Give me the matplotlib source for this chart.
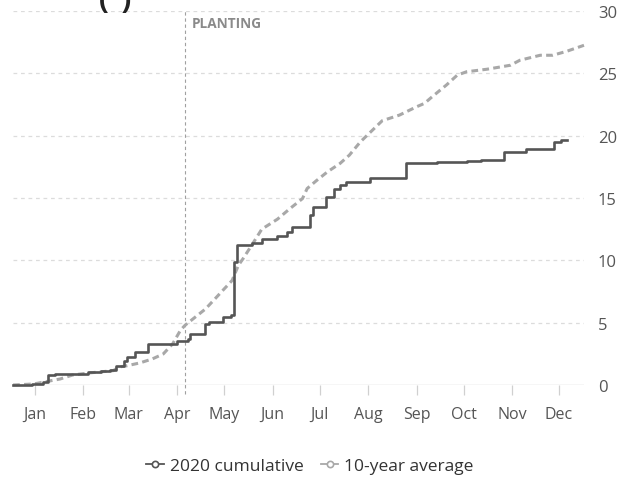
import numpy as np
import pandas as pd
import matplotlib
matplotlib.use("Agg")
import matplotlib.pyplot as plt
from matplotlib.lines import Line2D

plt.rcParams['font.family'] = ['Open Sans', 'DejaVu Sans']

# cumulative rainfall (inches), day of year -> running total
rain_2020_day = [1, 13, 20, 23, 28, 49, 57, 63, 67, 72, 74, 79, 87, 106, 113, 114,
                 124, 126, 135, 140, 142, 144, 154, 160, 170, 176, 179, 191, 193,
                 201, 206, 210, 214, 229, 252, 272, 291, 300, 315, 329, 347, 351, 355]
rain_2020 = [0.0, 0.05, 0.24, 0.80, 0.88, 1.02, 1.15, 1.23, 1.55, 1.95, 2.23, 2.63,
             3.30, 3.56, 3.70, 4.10, 4.90, 5.09, 5.44, 5.65, 9.89, 11.20, 11.41, 11.74,
             11.95, 12.27, 12.68, 13.61, 14.28, 15.09, 15.76, 16.02, 16.29, 16.62,
             17.80, 17.90, 17.95, 18.03, 18.70, 18.91, 19.51, 19.64, 19.64]

avg_day = [1, 14, 31, 39, 49, 65, 69, 74, 82, 90, 97, 103, 108, 111, 116, 124, 130,
           135, 141, 145, 148, 154, 160, 170, 178, 186, 189, 195, 202, 210, 216, 223,
           237, 248, 259, 264, 269, 278, 285, 291, 304, 319, 325, 338, 346, 355, 366]
avg_10yr = [0.0, 0.08, 0.48, 0.80, 0.96, 1.15, 1.45, 1.55, 1.77, 2.09, 2.49, 3.30,
            4.39, 4.80, 5.30, 6.10, 6.90, 7.58, 8.38, 9.59, 10.13, 11.30, 12.50, 13.30,
            14.15, 14.95, 15.76, 16.40, 17.10, 17.77, 18.44, 19.50, 21.20, 21.65,
            22.32, 22.59, 23.13, 24.06, 24.86, 25.13, 25.33, 25.65, 26.05, 26.45,
            26.45, 26.77, 27.25]

planting_date = "2020-04-20"
months = ["Jan", "Feb", "Mar", "Apr", "May", "Jun",
          "Jul", "Aug", "Sep", "Oct", "Nov", "Dec"]
yticks = [0, 5, 10, 15, 20, 25, 30]

start = pd.Timestamp("2020-01-01")
to_dates = lambda days: start + pd.to_timedelta(np.array(days) - 1, unit="D")

dark = "#555555"
light = "#a8a8a8"
label_col = "#555555"

fig = plt.figure(figsize=(6.18, 4.81), dpi=100)
ax = fig.add_axes([13.1 / 618, 1 - 386 / 481, (584 - 13.1) / 618, (386 - 12) / 481])

# grid
for y in yticks[1:]:
    ax.axhline(y, color="#dcdcdc", lw=0.9, ls=(0, (3, 3)), zorder=0)
ax.axhline(0, color="#d4d4d4", lw=1.0, zorder=0)

ax.plot(to_dates(avg_day), avg_10yr, color=light, lw=2.2,
        dashes=(2.2, 1.4), clip_on=False, zorder=2)
ax.plot(to_dates(rain_2020_day), rain_2020, color=dark, lw=1.9,
        drawstyle="steps-post", clip_on=False, zorder=3)

# planting marker
pd_ = pd.Timestamp(planting_date)
ax.plot([pd_, pd_], [-0.75, 30], color="#a0a0a0", lw=0.8, ls=(0, (3, 2.5)),
        clip_on=False, zorder=1)
ax.text(pd_ + pd.Timedelta(days=4), 29.6, "PLANTING", fontsize=9.8, fontweight="bold",
        color="#8a8a8a", va="top", ha="left")

ax.set_xlim(start, pd.Timestamp("2020-12-31"))
ax.set_ylim(0, 30)

mid = [pd.Timestamp(2020, m, 15) for m in range(1, 13)]
ax.set_xticks(mid)
ax.set_xticklabels(months)
ax.tick_params(axis="x", length=7, width=0.9, color="#d0d0d0", pad=8,
               labelsize=11.5, labelcolor=label_col)

ax.yaxis.tick_right()
ax.set_yticks(yticks)
ax.tick_params(axis="y", length=0, pad=10, labelsize=12, labelcolor=label_col)

for s in ax.spines.values():
    s.set_visible(False)

# title, mostly above the canvas
fig.text(99 / 618, 1 - 9 / 481, '(")', fontsize=21, fontweight="bold",
         color="#222222", ha="left", va="baseline")

handles = [
    Line2D([], [], color=dark, lw=1.3, marker="o", markersize=4.5,
           markerfacecolor="white", markeredgewidth=1.2),
    Line2D([], [], color=light, lw=1.3, marker="o", markersize=4.5,
           markerfacecolor="white", markeredgewidth=1.2),
]
fig.legend(handles, ["2020 cumulative", "10-year average"], loc="center",
           bbox_to_anchor=(310 / 618, 1 - 467 / 481), ncol=2, frameon=False,
           fontsize=12.5, handlelength=1.0, handletextpad=0.35, columnspacing=1.0,
           labelcolor="#333333")

fig.savefig("out.png", dpi=100)
